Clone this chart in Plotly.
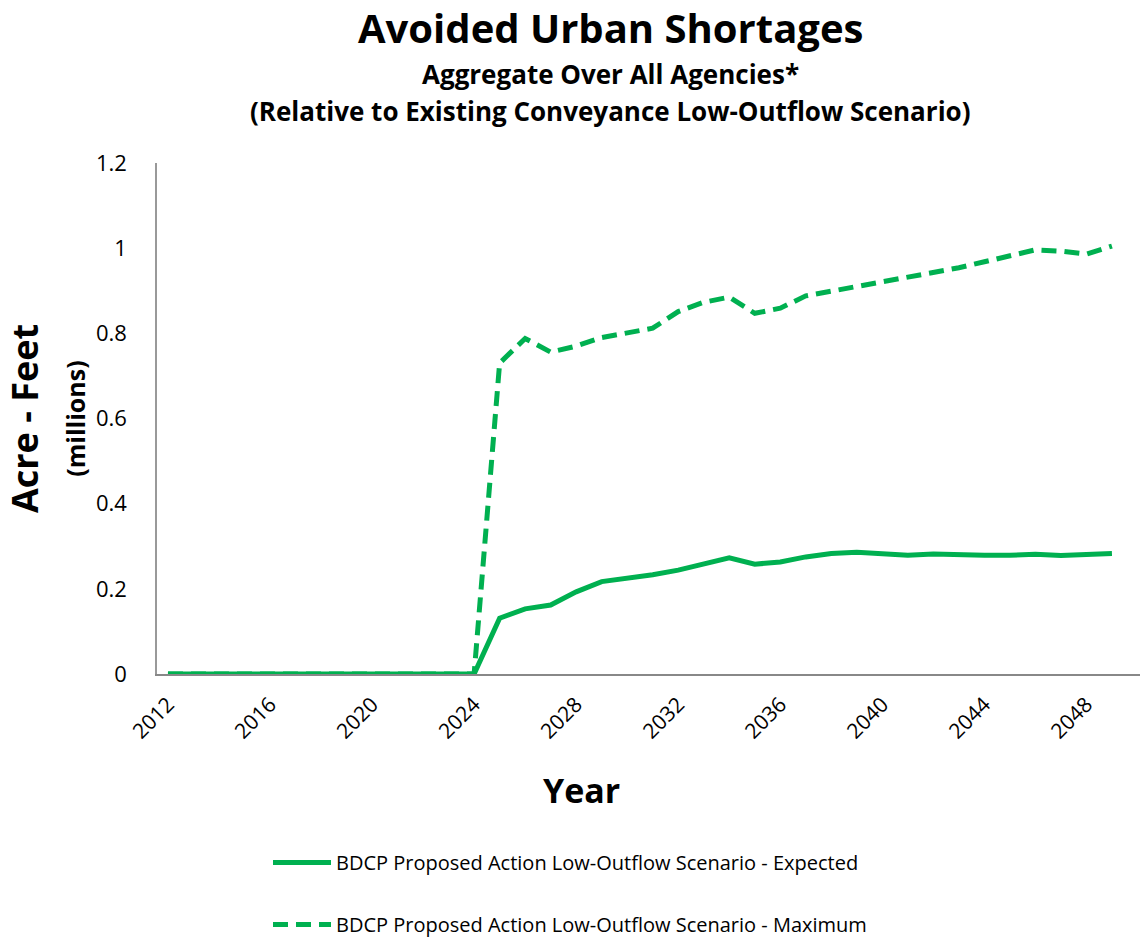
import plotly.graph_objects as go

years = list(range(2012, 2050))

expected = [0, 0, 0, 0, 0, 0, 0, 0, 0, 0, 0, 0, 0,
            0.131, 0.153, 0.162, 0.193, 0.217, 0.225, 0.233, 0.244, 0.260,
            0.273, 0.258, 0.263, 0.275, 0.283, 0.286, 0.282, 0.279, 0.282,
            0.280, 0.279, 0.279, 0.281, 0.278, 0.281, 0.283]

maximum = [0, 0, 0, 0, 0, 0, 0, 0, 0, 0, 0, 0, 0,
           0.730, 0.788, 0.756, 0.770, 0.790, 0.800, 0.812, 0.851, 0.873,
           0.885, 0.847, 0.859, 0.888, 0.899, 0.910, 0.920, 0.932, 0.943,
           0.954, 0.968, 0.982, 0.996, 0.993, 0.986, 1.005]

x_ticks = list(range(2012, 2050, 4))
y_ticks = [0, 0.2, 0.4, 0.6, 0.8, 1.0, 1.2]
y_tick_text = ["0", "0.2", "0.4", "0.6", "0.8", "1", "1.2"]

series_names = ["BDCP Proposed Action Low-Outflow Scenario - Expected",
                "BDCP Proposed Action Low-Outflow Scenario - Maximum"]

GREEN = "#00B050"
FONT = "Open Sans"

W, H = 1141, 938
L, R, T, B = 157, 1, 163, 264
pw, ph = W - L - R, H - T - B


def px_to_paper(px, py):
    """Convert pixel position on the page to paper coordinates."""
    return (px - L) / pw, 1 - (py - T) / ph


fig = go.Figure()
fig.add_trace(go.Scatter(x=years, y=expected, mode="lines", name=series_names[0],
                         legendgroup="a",
                         line=dict(color=GREEN, width=5)))
fig.add_trace(go.Scatter(x=years, y=maximum, mode="lines", name=series_names[1],
                         legendgroup="b",
                         line=dict(color=GREEN, width=5, dash="15px,8px")))

texts = [
    ("<b>Avoided Urban Shortages</b>", 610, 27, 40),
    ("<b>Aggregate Over All Agencies*</b>", 610, 74, 26),
    ("<b>(Relative to Existing Conveyance Low-Outflow Scenario)</b>", 610, 111, 26),
    ("<b>Year</b>", 581, 790, 34),
]
annotations = []
for text, px, py, size in texts:
    ax, ay = px_to_paper(px, py)
    annotations.append(dict(text=text, x=ax, y=ay, xref="paper", yref="paper",
                            xanchor="center", yanchor="middle", showarrow=False,
                            font=dict(size=size, family=FONT, color="black")))

lx, ly = px_to_paper(268, 843)

fig.update_layout(
    width=W, height=H,
    margin=dict(l=L, r=R, t=T, b=B, autoexpand=False),
    paper_bgcolor="white", plot_bgcolor="white",
    font=dict(family=FONT, color="black"),
    showlegend=True,
    legend=dict(orientation="v", x=lx, xanchor="left", y=ly, yanchor="top",
                font=dict(size=20, family=FONT), tracegroupgap=33,
                itemwidth=58),
    xaxis=dict(range=[2011.57, 2050.1], tickmode="array", tickvals=x_ticks,
               tickangle=-45, tickfont=dict(size=21, family=FONT),
               showgrid=False, zeroline=False, showline=True,
               linecolor="#888888", linewidth=2, ticks="",
               ticklabelstandoff=8),
    yaxis=dict(range=[0, 1.2], tickmode="array", tickvals=y_ticks,
               ticktext=y_tick_text, tickfont=dict(size=22, family=FONT),
               showgrid=False, zeroline=False, showline=True,
               linecolor="#999999", linewidth=1.5, ticks="",
               ticklabelstandoff=24,
               title=dict(text="<b>Acre - Feet</b><br><b><span style='font-size:25px'>(millions)</span></b>",
                          font=dict(size=36, family=FONT), standoff=10)),
    annotations=annotations,
)

fig.write_html("out.html")
